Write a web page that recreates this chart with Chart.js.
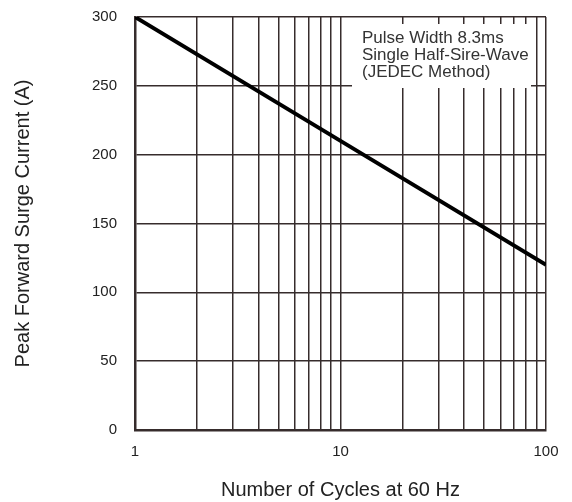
<!DOCTYPE html>
<html>
<head>
<meta charset="utf-8">
<script src="https://cdn.jsdelivr.net/npm/chart.js@4.4.0/dist/chart.umd.min.js"></script>
<style>
    html, body { margin: 0; padding: 0; background: #fff; }
    #wrap { width: 572px; height: 502px; }
</style>
</head>
<body>
<div id="wrap"><canvas id="surge_chart"></canvas></div>
<script>
// data
var cycles = [1, 10, 100];
var surgeCurrent = [300, 210, 120];

// axis ticks
var xTickValues = [1, 2, 3, 4, 5, 6, 7, 8, 9, 10, 20, 30, 40, 50, 60, 70, 80, 90, 100];
var xTickLabels = ['1', '10', '100'];
var yTickValues = [0, 50, 100, 150, 200, 250, 300];

var noteLines = ['Pulse Width 8.3ms', 'Single Half-Sire-Wave', '(JEDEC Method)'];

var gridColor = '#362c2c';
var textColor = '#222';
var fontName = '"Liberation Sans", Arial, sans-serif';

// white note box over the grid, top right
var notePlugin = {
    id: 'noteBox',
    beforeDatasetsDraw: function (chart) {
        var ctx = chart.ctx;
        var area = chart.chartArea;
        var x0 = area.left + (area.right - area.left) * 0.528;
        var x1 = area.right - 15;
        var y0 = area.top + 7;
        var y1 = area.top + 71;
        ctx.save();
        ctx.fillStyle = '#fff';
        ctx.fillRect(x0, y0, x1 - x0, y1 - y0);
        ctx.fillStyle = '#333';
        ctx.font = '17px ' + fontName;
        ctx.textBaseline = 'middle';
        ctx.textAlign = 'left';
        noteLines.forEach(function (t, i) {
            ctx.fillText(t, x0 + 10, area.top + 21 + i * 17);
        });
        ctx.restore();
    }
};

var surge_chart = document.getElementById('surge_chart');
var surge_config = {
    type: 'line',
    data: {
        datasets: [
            {
                data: cycles.map(function (c, i) { return { x: c, y: surgeCurrent[i] }; }),
                borderColor: '#000',
                borderWidth: 4,
                fill: false,
                pointRadius: 0,
                tension: 0
            }
        ]
    },
    plugins: [notePlugin],
    options: {
        responsive: true,
        maintainAspectRatio: false,
        animation: false,
        layout: {
            padding: { top: 17, right: 26, bottom: 0, left: 0 }
        },
        plugins: {
            legend: { display: false },
            tooltip: { enabled: false }
        },
        scales: {
            x: {
                type: 'logarithmic',
                min: 1,
                max: 100,
                afterBuildTicks: function (scale) {
                    scale.ticks = xTickValues.map(function (v) { return { value: v }; });
                },
                afterFit: function (scale) {
                    scale.height = 72;
                },
                grid: {
                    color: gridColor,
                    lineWidth: 1.5,
                    drawTicks: false
                },
                border: { color: gridColor, width: 2.5 },
                ticks: {
                    autoSkip: false,
                    maxRotation: 0,
                    padding: 13,
                    color: textColor,
                    font: { family: fontName, size: 15 },
                    callback: function (value) {
                        var s = String(value);
                        return xTickLabels.indexOf(s) >= 0 ? s : '';
                    }
                },
                title: {
                    display: true,
                    text: 'Number of Cycles at 60 Hz',
                    color: textColor,
                    font: { family: fontName, size: 20 },
                    padding: { top: 0, bottom: 0 }
                }
            },
            y: {
                min: 0,
                max: 300,
                afterBuildTicks: function (scale) {
                    scale.ticks = yTickValues.map(function (v) { return { value: v }; });
                },
                afterFit: function (scale) {
                    scale.width = 135;
                    scale.paddingTop = 0;
                    scale.paddingBottom = 0;
                },
                grid: {
                    color: gridColor,
                    lineWidth: 1.5,
                    drawTicks: false
                },
                border: { color: gridColor, width: 2.5 },
                ticks: {
                    padding: 18,
                    color: textColor,
                    font: { family: fontName, size: 15 }
                },
                title: {
                    display: true,
                    text: 'Peak Forward Surge Current (A)',
                    color: textColor,
                    font: { family: fontName, size: 20 },
                    padding: { top: 11, bottom: 0 }
                }
            }
        }
    }
};
var surge_1 = new Chart(surge_chart, surge_config);
</script>
</body>
</html>
